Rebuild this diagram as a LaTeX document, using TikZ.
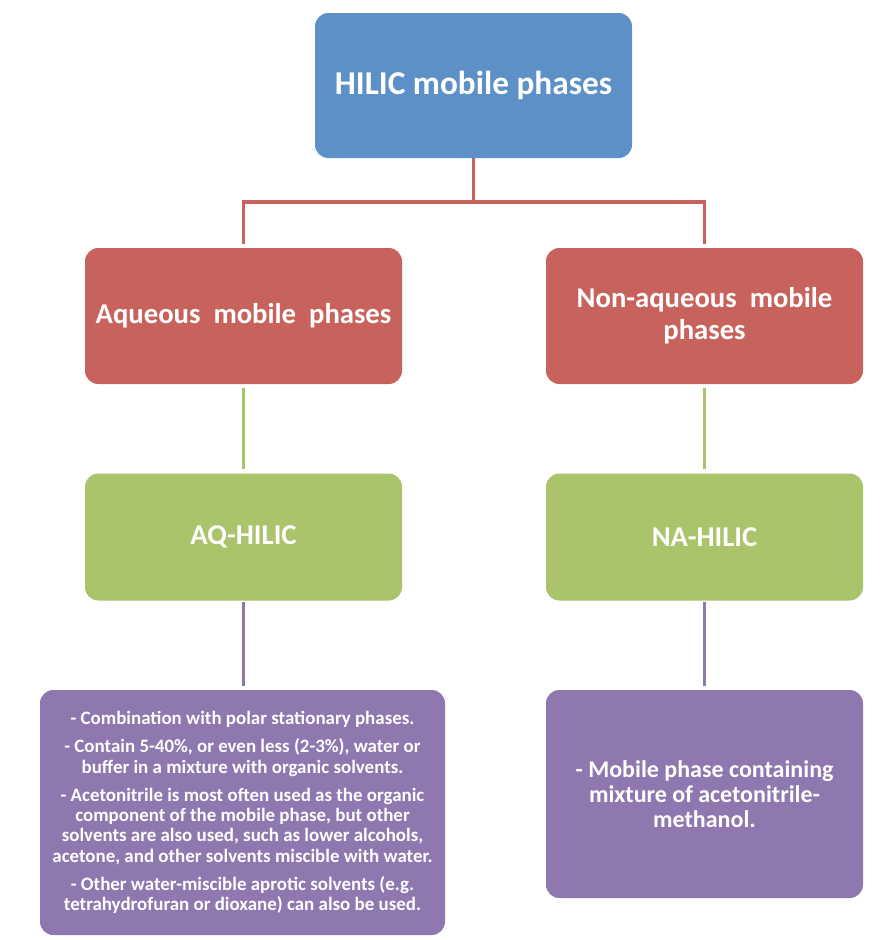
\documentclass[tikz,border=0pt]{standalone}
\usepackage{fontspec}
\setmainfont{Carlito}
\definecolor{rootblue}{RGB}{92,144,198}
\definecolor{phasered}{RGB}{200,98,92}
\definecolor{modegreen}{RGB}{170,196,108}
\definecolor{notepurple}{RGB}{143,119,176}
\tikzset{
    card/.style={rectangle, rounded corners=10pt, text=white, font=\bfseries,
        align=center, inner sep=0pt, minimum width=317*0.75pt},
    link/.style={line width=2.4pt}
}
\begin{document}
\begin{tikzpicture}[x=0.75pt, y=-0.75pt]
            % the frame
            \useasboundingbox (0,0) rectangle (886,940);
            % the root
            \node[card, fill=rootblue, minimum height=145*0.75pt, font=\bfseries\fontsize{25}{30}\selectfont]
                (root) at (473.5,85.5) {HILIC mobile phases};
            % the two kinds of phase
            \node[card, fill=phasered, minimum height=136*0.75pt, font=\bfseries\fontsize{21.5}{24}\selectfont]
                (aqueous) at (243.5,316) {Aqueous\ \ mobile\ \ phases};
            \node[card, fill=phasered, minimum height=136*0.75pt, font=\bfseries\fontsize{21.5}{24}\selectfont]
                (nonaqueous) at (704.5,316) {Non-aqueous\ \ mobile\\phases};
            % the two modes
            \node[card, fill=modegreen, minimum height=127*0.75pt, font=\bfseries\fontsize{21.5}{24}\selectfont]
                (aqhilic) at (243.5,537) {AQ-HILIC};
            \node[card, fill=modegreen, minimum height=127*0.75pt, font=\bfseries\fontsize{21.5}{24}\selectfont]
                (nahilic) at (704.5,537) {NA-HILIC};
            % the notes
            \node[card, fill=notepurple, minimum width=405*0.75pt, minimum height=245*0.75pt,
                font=\bfseries\fontsize{14.2}{15.2}\selectfont] (aqnote) at (242.5,812.5)
                {- Combination with polar stationary phases.\\[6pt]
                 - Contain 5-40\%, or even less (2-3\%), water or\\
                 buffer in a mixture with organic solvents.\\[6pt]
                 - Acetonitrile is most often used as the organic\\
                 component of the mobile phase, but other\\
                 solvents are also used, such as lower alcohols,\\
                 acetone, and other solvents miscible with water.\\[6pt]
                 - Other water-miscible aprotic solvents (e.g.\\
                 tetrahydrofuran or dioxane) can also be used.};
            \node[card, fill=notepurple, minimum height=208*0.75pt,
                font=\bfseries\fontsize{18}{18.6}\selectfont] (nanote) at (704.5,794)
                {- Mobile phase containing\\mixture of acetonitrile-\\methanol.};

            % links
            \coordinate (split) at (473.5,202);
            \draw[link, phasered, shorten >=3pt] (root.south) -- (split) -| (aqueous.north);
            \draw[link, phasered, shorten >=3pt] (split) -| (nonaqueous.north);
            \draw[link, modegreen, shorten <=3pt, shorten >=3pt] (aqueous) -- (aqhilic);
            \draw[link, modegreen, shorten <=3pt, shorten >=3pt] (nonaqueous) -- (nahilic);
            \draw[link, notepurple, shorten <=1pt, shorten >=3pt] (aqhilic.south) -- (aqhilic.south |- aqnote.north);
            \draw[link, notepurple, shorten <=1pt, shorten >=3pt] (nahilic) -- (nanote);
        \end{tikzpicture}
\end{document}
